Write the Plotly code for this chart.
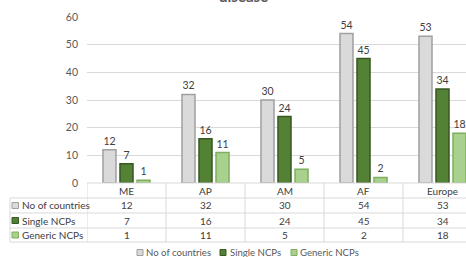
import plotly.graph_objects as go

categories = ["ME", "AP", "AM", "AF", "Europe"]
no_of_countries = [12, 32, 30, 54, 53]
single_ncps = [7, 16, 24, 45, 34]
generic_ncps = [1, 11, 5, 2, 18]
series_names = ["No of countries", "Single NCPs", "Generic NCPs"]
y_ticks = [0, 10, 20, 30, 40, 50, 60]
title_text = "disease"

W, H = 466, 257
L, R, T, B = 87, 0, 17, 74
PH = H - T - B
PW = W - L - R

fills = ["#dadada", "#548235", "#a9d18e"]
borders = ["#a0a0a0", "#385723", "#7fae5e"]
series = [no_of_countries, single_ncps, generic_ncps]

FONT = "Lato, 'Liberation Sans', sans-serif"
TXT = "#404040"

fig = go.Figure()
for name, vals, fc, bc in zip(series_names, series, fills, borders):
    fig.add_trace(go.Bar(
        x=categories, y=vals, name=name,
        marker=dict(color=fc, line=dict(color=bc, width=1.5)),
        text=[str(v) for v in vals], textposition="outside",
        textfont=dict(family=FONT, size=10.5, color=TXT),
        cliponaxis=False, showlegend=False,
    ))

def py(p):
    return (H - B - p) / PH

def px(p):
    return (p - L) / PW

ncat = len(categories)
cat_w = 79.0
x_hi = -0.5 + PW / cat_w

annotations = []
# header row
for c in categories:
    annotations.append(dict(x=c, xref="x", y=py(191), yref="paper", text=c,
                            showarrow=False, font=dict(family=FONT, size=10, color=TXT),
                            xanchor="center", yanchor="middle"))
row_centers = [205.5, 220.5, 235]
for r, (name, vals, fc, bc) in enumerate(zip(series_names, series, fills, borders)):
    yc = py(row_centers[r])
    for c, v in zip(categories, vals):
        annotations.append(dict(x=c, xref="x", y=yc, yref="paper", text=str(v),
                                showarrow=False, font=dict(family=FONT, size=10, color=TXT),
                                xanchor="center", yanchor="middle"))
    annotations.append(dict(x=px(20), xref="paper", y=yc, yref="paper", text=name,
                            showarrow=False, font=dict(family=FONT, size=10, color=TXT),
                            xanchor="left", yanchor="middle"))
# bottom legend (drawn manually, cropped at the bottom like the reference)
legend_text_x = [144, 228, 298]
legend_icon_x = [137, 220, 291]
legend_y = 252.5
for name, tx in zip(series_names, legend_text_x):
    annotations.append(dict(x=px(tx), xref="paper", y=py(legend_y), yref="paper", text=name,
                            showarrow=False, font=dict(family=FONT, size=9.6, color="#595959"),
                            xanchor="left", yanchor="middle"))
# title (cropped at the top edge, like the reference)
annotations.append(dict(x=px(243), xref="paper", y=py(6.5), yref="paper", text="<b>" + title_text + "</b>",
                        showarrow=False, font=dict(family=FONT, size=15, color="#595959"),
                        xanchor="center", yanchor="bottom"))

shapes = []
lc = "#d9d9d9"
# horizontal lines
shapes.append(dict(type="line", xref="paper", yref="paper", x0=px(87), x1=1, y0=py(183), y1=py(183), line=dict(color=lc, width=1)))
for yy in [198, 213, 228, 242]:
    shapes.append(dict(type="line", xref="paper", yref="paper", x0=px(10), x1=1, y0=py(yy), y1=py(yy), line=dict(color=lc, width=1)))
# vertical lines
shapes.append(dict(type="line", xref="paper", yref="paper", x0=px(10), x1=px(10), y0=py(198), y1=py(242), line=dict(color=lc, width=1)))
for k in range(ncat):
    xk = k - 0.5
    shapes.append(dict(type="line", xref="x", yref="paper", x0=xk, x1=xk, y0=py(183), y1=py(242), line=dict(color=lc, width=1)))
# legend keys in table
for r, (fc, bc) in enumerate(zip(fills, borders)):
    yc = row_centers[r]
    shapes.append(dict(type="rect", xref="paper", yref="paper", x0=px(12), x1=px(18.5), y0=py(yc + 3), y1=py(yc - 3),
                       fillcolor=fc, line=dict(color=bc, width=1)))
# bottom legend keys
for ix, fc, bc in zip(legend_icon_x, fills, borders):
    shapes.append(dict(type="rect", xref="paper", yref="paper", x0=px(ix), x1=px(ix + 6),
                       y0=py(legend_y + 3), y1=py(legend_y - 3),
                       fillcolor=fc, line=dict(color=bc, width=1)))

fig.update_layout(
    width=W, height=H,
    margin=dict(l=L, r=R, t=T, b=B, pad=0),
    paper_bgcolor="white", plot_bgcolor="white",
    barmode="group", bargap=0.354, bargroupgap=0.235,
    showlegend=False,
    xaxis=dict(range=[-0.5, x_hi], showticklabels=False, showgrid=False, zeroline=False,
               showline=False, ticks=""),
    yaxis=dict(range=[0, 60], tickvals=y_ticks, showgrid=True, gridcolor=lc, gridwidth=1,
               zeroline=False, showline=False, ticks="", ticklabelstandoff=8,
               tickfont=dict(family=FONT, size=10.5, color="#595959")),
    annotations=annotations, shapes=shapes,
    font=dict(family=FONT),
)

fig.write_html("out.html", config={"displayModeBar": False},
               post_script="document.body.style.margin='0px';document.body.style.overflow='hidden';")
